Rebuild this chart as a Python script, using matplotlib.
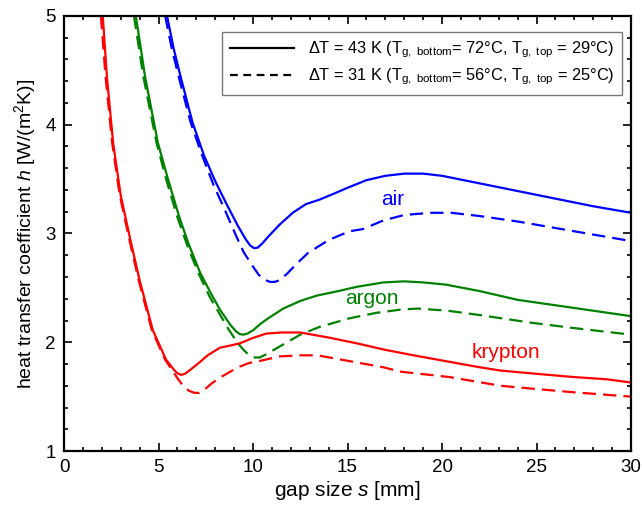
import numpy as np
import matplotlib
matplotlib.use("Agg")
from matplotlib import pyplot as plt
from matplotlib.lines import Line2D
from matplotlib.ticker import MultipleLocator

plt.rcParams['font.family'] = ['Liberation Sans', 'DejaVu Sans']
plt.rcParams['mathtext.fontset'] = 'custom'
plt.rcParams['mathtext.rm'] = 'Liberation Sans'
plt.rcParams['mathtext.it'] = 'Liberation Sans:italic'

# air, dT = 43 K (solid) and 31 K (dashed)
air43_x = [5.45, 5.8, 6.2, 6.8, 7.4, 8.0, 8.6, 9.2, 9.6, 9.85, 10.05, 10.25, 10.5, 10.8, 11.4, 12.1, 12.8,
           13.5, 14.2, 15.0, 16.0, 17.0, 18.0, 19.0, 20.0, 22.0, 24.0, 26.0, 28.0, 30.0]
air43_y = [5.0, 4.7, 4.42, 4.02, 3.72, 3.48, 3.27, 3.07, 2.95, 2.89, 2.865, 2.87, 2.91, 2.97, 3.08, 3.19, 3.27,
           3.31, 3.36, 3.42, 3.49, 3.53, 3.55, 3.55, 3.53, 3.46, 3.39, 3.32, 3.25, 3.19]
air31_x = [5.35, 5.7, 6.1, 6.7, 7.3, 7.9, 8.5, 9.1, 9.5, 9.9, 10.3, 10.6, 10.9, 11.15, 11.4, 11.8, 12.3,
           12.9, 14.0, 15.1, 15.8, 16.9, 18.0, 19.4, 20.5, 22.0, 24.0, 26.0, 28.0, 30.0]
air31_y = [5.0, 4.7, 4.42, 4.02, 3.72, 3.45, 3.22, 2.98, 2.83, 2.72, 2.62, 2.575, 2.555, 2.555, 2.57, 2.63, 2.72,
           2.82, 2.94, 3.02, 3.04, 3.12, 3.17, 3.19, 3.19, 3.16, 3.11, 3.05, 2.99, 2.93]

# argon
argon43_x = [3.8, 4.29, 4.97, 5.5, 6.1, 6.6, 7.2, 7.8, 8.25, 8.8, 9.1, 9.3, 9.5, 9.7, 10.0, 10.4, 10.8,
             11.6, 12.5, 13.4, 14.5, 15.5, 16.9, 18.0, 19.0, 20.2, 22.0, 24.0, 26.0, 28.0, 30.0]
argon43_y = [5.0, 4.44, 3.83, 3.50, 3.15, 2.90, 2.64, 2.44, 2.30, 2.16, 2.10, 2.075, 2.07, 2.08, 2.11, 2.17, 2.22,
             2.31, 2.38, 2.43, 2.47, 2.51, 2.55, 2.56, 2.55, 2.53, 2.47, 2.39, 2.34, 2.29, 2.24]
argon31_x = [3.7, 4.2, 4.9, 5.4, 6.0, 6.5, 7.1, 7.7, 8.2, 8.7, 9.2, 9.5, 9.8, 10.1, 10.35, 10.7, 11.4,
             12.5, 13.5, 15.1, 16.5, 17.8, 18.7, 20.3, 22.0, 24.7, 27.0, 30.0]
argon31_y = [5.0, 4.44, 3.83, 3.50, 3.15, 2.90, 2.64, 2.42, 2.27, 2.12, 1.99, 1.93, 1.88, 1.86, 1.86, 1.89, 1.96,
             2.07, 2.14, 2.22, 2.27, 2.30, 2.31, 2.29, 2.25, 2.18, 2.13, 2.07]

# krypton
krypton43_x = [2.05, 2.27, 2.6, 3.0, 3.5, 4.0, 4.7, 5.4, 5.8, 6.0, 6.2, 6.4, 6.7, 7.2, 7.6, 8.25, 8.8, 9.3,
               10.0, 10.7, 11.5, 12.5, 14.1, 15.5, 17.0, 18.5, 20.4, 22.0, 23.1, 25.0, 27.0, 28.7, 30.0]
krypton43_y = [5.0, 4.44, 3.83, 3.35, 2.95, 2.57, 2.11, 1.84, 1.75, 1.715, 1.70, 1.71, 1.75, 1.82, 1.88, 1.95, 1.97, 1.99,
               2.04, 2.08, 2.09, 2.09, 2.04, 1.99, 1.93, 1.88, 1.82, 1.77, 1.74, 1.71, 1.68, 1.66, 1.63]
krypton31_x = [1.95, 2.2, 2.55, 2.95, 3.45, 3.95, 4.65, 5.35, 6.0, 6.3, 6.6, 6.9, 7.15, 7.4, 7.8, 8.2, 8.6,
               9.2, 9.8, 10.4, 11.4, 12.5, 13.4, 15.0, 16.9, 17.8, 20.4, 23.1, 25.0, 27.0, 30.0]
krypton31_y = [5.0, 4.44, 3.83, 3.35, 2.95, 2.57, 2.11, 1.84, 1.67, 1.60, 1.555, 1.535, 1.535, 1.56, 1.62, 1.67, 1.71,
               1.77, 1.81, 1.83, 1.87, 1.88, 1.88, 1.83, 1.77, 1.73, 1.68, 1.60, 1.57, 1.54, 1.50]

legend_labels = [r'$\Delta$T = 43 K (T$_{\mathrm{g,\ bottom}}$= 72°C, T$_{\mathrm{g,\ top}}$ = 29°C)',
                 r'$\Delta$T = 31 K (T$_{\mathrm{g,\ bottom}}$= 56°C, T$_{\mathrm{g,\ top}}$ = 25°C)']

fig = plt.figure(figsize=(6.42, 5.12), dpi=100)
ax = fig.add_axes([0.0997, 0.119, 0.8833, 0.850])

lw = 1.6
dash = (0, (6, 3.2))
ax.plot(air43_x, air43_y, color='#0000ff', lw=lw)
ax.plot(air31_x, air31_y, color='#0000ff', lw=lw, ls=dash)
ax.plot(argon43_x, argon43_y, color='#008000', lw=lw)
ax.plot(argon31_x, argon31_y, color='#008000', lw=lw, ls=dash)
ax.plot(krypton43_x, krypton43_y, color='#ff0000', lw=lw)
ax.plot(krypton31_x, krypton31_y, color='#ff0000', lw=lw, ls=dash)

ax.text(17.4, 3.31, 'air', color='#0000ff', fontsize=15, ha='center', va='center')
ax.text(16.3, 2.40, 'argon', color='#008000', fontsize=15, ha='center', va='center')
ax.text(23.4, 1.91, 'krypton', color='#ff0000', fontsize=15, ha='center', va='center')

ax.set_xlim(0, 30)
ax.set_ylim(1, 5)
ax.xaxis.set_major_locator(MultipleLocator(5))
ax.xaxis.set_minor_locator(MultipleLocator(1))
ax.yaxis.set_major_locator(MultipleLocator(1))
ax.yaxis.set_minor_locator(MultipleLocator(0.2))
ax.tick_params(which='both', direction='in', top=True, right=True, labelsize=13.5, width=1.2)
ax.tick_params(which='major', length=6, pad=6)
ax.tick_params(which='minor', length=3)
for s in ax.spines.values():
    s.set_linewidth(1.6)

ax.set_xlabel('gap size $s$ [mm]', fontsize=15, labelpad=2)
ax.set_ylabel('heat transfer coefficient $h$ [W/(m$^2$K)]', fontsize=14, labelpad=5)

handles = [Line2D([], [], color='black', lw=lw),
           Line2D([], [], color='black', lw=lw, ls=(0, (3.5, 2.5)))]
leg = ax.legend(handles, legend_labels, loc='upper right', bbox_to_anchor=(0.984, 0.962),
                fontsize=11.8, fancybox=False, framealpha=1, edgecolor='#777777',
                handlelength=3.9, handletextpad=0.9, borderpad=0.45, borderaxespad=0,
                labelspacing=0.38)
leg.get_frame().set_linewidth(1.0)

fig.savefig('out.png', dpi=100)
